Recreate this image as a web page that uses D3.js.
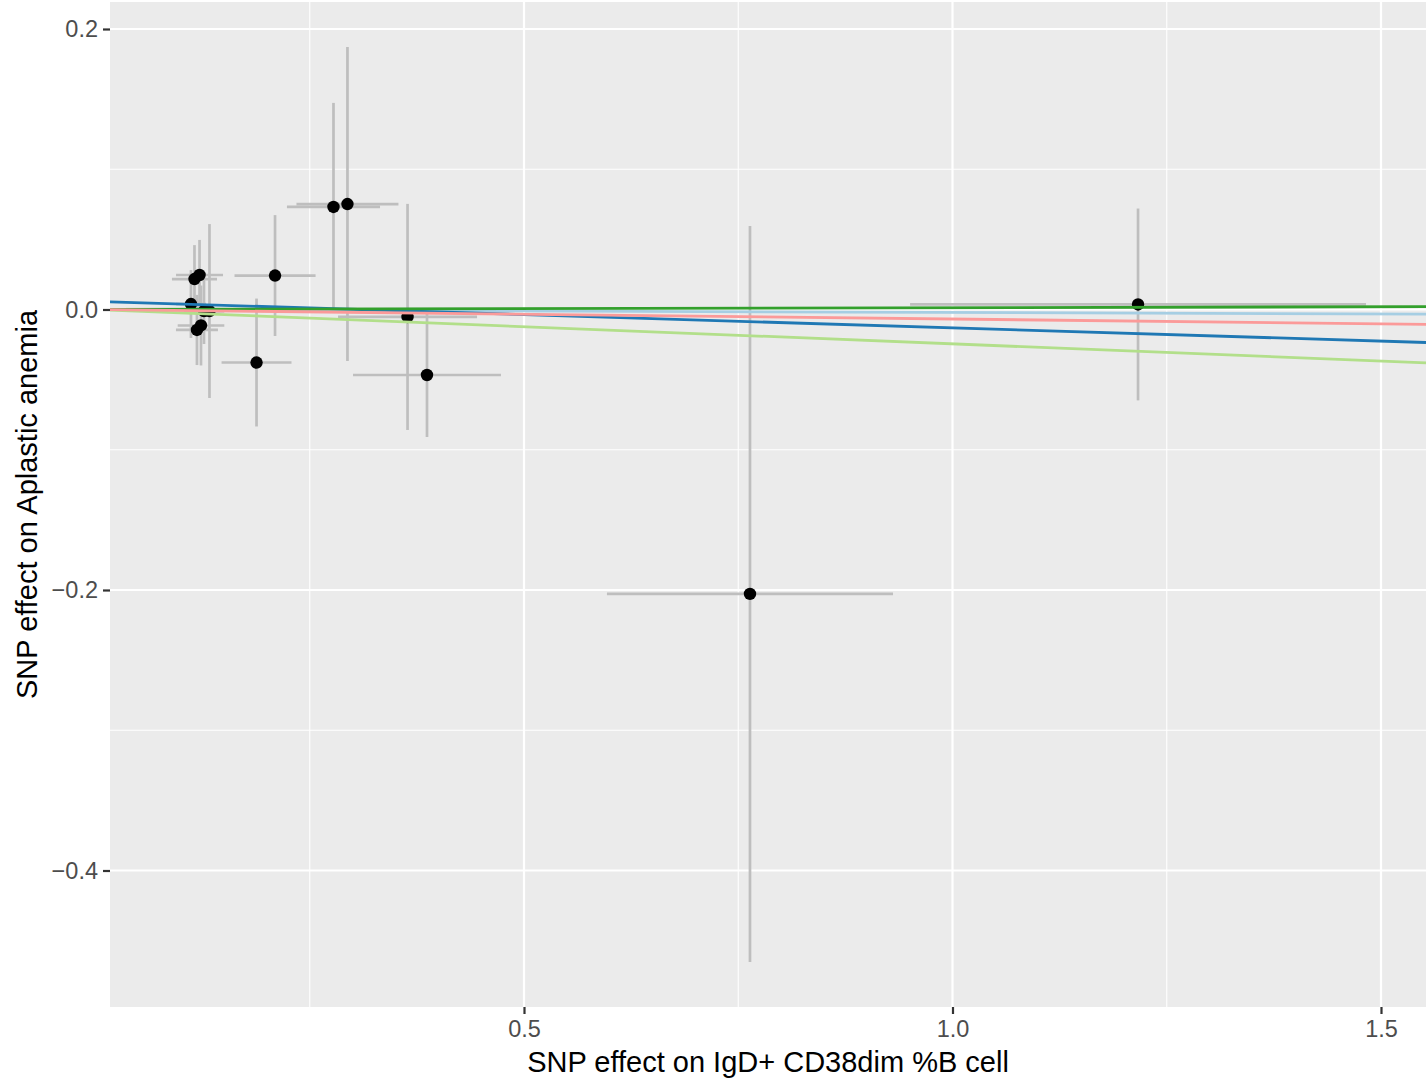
<!DOCTYPE html>
<html>
<head>
<meta charset="utf-8">
<script src="https://cdn.jsdelivr.net/npm/d3@7"></script>
<style>
  html, body { margin: 0; padding: 0; background: #ffffff; }
  svg { display: block; font-family: "Liberation Sans", Arial, "DejaVu Sans", sans-serif; }
</style>
</head>
<body>
<svg id="chart" width="1428" height="1082"></svg>
<script>
// SNP effects on exposure (x) and outcome (y) with standard errors
const snpBx   = [0.1114, 0.1155, 0.1214, 0.1266, 0.1330, 0.1184, 0.1231, 0.2095, 0.1879, 0.2777, 0.2940, 0.3641, 0.3868, 0.7637, 1.2165];
const snpBy   = [0.0039, 0.0217, 0.0246, -0.0011, -0.0011, -0.0146, -0.0114, 0.0242, -0.0378, 0.0731, 0.0752, -0.0053, -0.0467, -0.2028, 0.0036];
const snpBxSe = [0.0175, 0.0263, 0.0274, 0.0233, 0.0175, 0.0245, 0.0272, 0.0473, 0.0408, 0.0543, 0.0595, 0.0811, 0.0863, 0.1669, 0.2660];
const snpBySe = [0.0242, 0.0242, 0.0250, 0.0235, 0.0620, 0.0250, 0.0285, 0.0431, 0.0456, 0.0742, 0.1119, 0.0806, 0.0442, 0.2624, 0.0684];

// MR method fits
const methods    = ["Inverse variance weighted", "MR Egger", "Simple mode", "Weighted median", "Weighted mode"];
const slopes     = [-0.0021, -0.0189, -0.0245, 0.0013, -0.0068];
const intercepts = [0, 0.0058, 0, 0, 0];
const methodColors = ["#a6cee3", "#1f78b4", "#b2df8a", "#33a02c", "#fb9a99"];

const xTicks = [0.5, 1.0, 1.5];
const yTicks = [-0.4, -0.2, 0.0, 0.2];
const xMinor = [0.25, 0.75, 1.25];
const yMinor = [-0.3, -0.1, 0.1];

const xTitle = "SNP effect on IgD+ CD38dim %B cell";
const yTitle = "SNP effect on Aplastic anemia";

const svg = d3.select("#chart");
const panel = { left: 110, right: 1426, top: 2, bottom: 1007 };

const x = d3.scaleLinear().domain([0.01692, 1.55251]).range([panel.left, panel.right]);
const y = d3.scaleLinear().domain([-0.49733, 0.21925]).range([panel.bottom, panel.top]);

svg.append("defs").append("clipPath").attr("id", "clip")
  .append("rect")
  .attr("x", panel.left).attr("y", panel.top)
  .attr("width", panel.right - panel.left).attr("height", panel.bottom - panel.top);

// panel background
svg.append("rect")
  .attr("x", panel.left).attr("y", panel.top)
  .attr("width", panel.right - panel.left).attr("height", panel.bottom - panel.top)
  .attr("fill", "#ebebeb");

const grid = svg.append("g");
grid.selectAll(".xminor").data(xMinor).join("line")
  .attr("x1", d => x(d)).attr("x2", d => x(d))
  .attr("y1", panel.top).attr("y2", panel.bottom)
  .attr("stroke", "#ffffff").attr("stroke-width", 1.1);
grid.selectAll(".yminor").data(yMinor).join("line")
  .attr("y1", d => y(d)).attr("y2", d => y(d))
  .attr("x1", panel.left).attr("x2", panel.right)
  .attr("stroke", "#ffffff").attr("stroke-width", 1.1);
grid.selectAll(".xmajor").data(xTicks).join("line")
  .attr("x1", d => x(d)).attr("x2", d => x(d))
  .attr("y1", panel.top).attr("y2", panel.bottom)
  .attr("stroke", "#ffffff").attr("stroke-width", 2.2);
grid.selectAll(".ymajor").data(yTicks).join("line")
  .attr("y1", d => y(d)).attr("y2", d => y(d))
  .attr("x1", panel.left).attr("x2", panel.right)
  .attr("stroke", "#ffffff").attr("stroke-width", 2.2);

const data = snpBx.map((bx, i) => ({ bx, by: snpBy[i], sx: snpBxSe[i], sy: snpBySe[i] }));

const plot = svg.append("g").attr("clip-path", "url(#clip)");

// vertical error bars
plot.selectAll(".ebv").data(data).join("line")
  .attr("x1", d => x(d.bx)).attr("x2", d => x(d.bx))
  .attr("y1", d => y(d.by - d.sy)).attr("y2", d => y(d.by + d.sy))
  .attr("stroke", "#bebebe").attr("stroke-width", 2.7);
// horizontal error bars
plot.selectAll(".ebh").data(data).join("line")
  .attr("y1", d => y(d.by)).attr("y2", d => y(d.by))
  .attr("x1", d => x(d.bx - d.sx)).attr("x2", d => x(d.bx + d.sx))
  .attr("stroke", "#bebebe").attr("stroke-width", 2.7);
// points
plot.selectAll(".pt").data(data).join("circle")
  .attr("cx", d => x(d.bx)).attr("cy", d => y(d.by))
  .attr("r", 6.2).attr("fill", "#000000");

// method lines
const xd = x.domain();
const lines = methods.map((m, i) => ({ m, s: slopes[i], b: intercepts[i], c: methodColors[i] }));
plot.selectAll(".fit").data(lines).join("line")
  .attr("x1", x(xd[0])).attr("x2", x(xd[1]))
  .attr("y1", d => y(d.b + d.s * xd[0])).attr("y2", d => y(d.b + d.s * xd[1]))
  .attr("stroke", d => d.c).attr("stroke-width", 2.8);

// axes
const xAxis = svg.append("g").attr("transform", `translate(0,${panel.bottom})`)
  .call(d3.axisBottom(x).tickValues(xTicks).tickFormat(d3.format(".1f")).tickSize(7).tickPadding(6));
const yAxis = svg.append("g").attr("transform", `translate(${panel.left},0)`)
  .call(d3.axisLeft(y).tickValues(yTicks).tickFormat(d3.format(".1f")).tickSize(7).tickPadding(5));
[xAxis, yAxis].forEach(a => {
  a.select(".domain").remove();
  a.selectAll(".tick line").attr("stroke", "#333333").attr("stroke-width", 2.2);
  a.selectAll(".tick text").attr("fill", "#4d4d4d")
    .style("font-size", "23.5px")
    .style("font-family", "'Liberation Sans', Arial, sans-serif");
});

svg.append("text")
  .attr("x", (panel.left + panel.right) / 2).attr("y", 1072)
  .attr("text-anchor", "middle").attr("fill", "#000000")
  .style("font-size", "29px")
  .text(xTitle);

svg.append("text")
  .attr("transform", `translate(37,${(panel.top + panel.bottom) / 2}) rotate(-90)`)
  .attr("text-anchor", "middle").attr("fill", "#000000")
  .style("font-size", "29px")
  .text(yTitle);
</script>
</body>
</html>
